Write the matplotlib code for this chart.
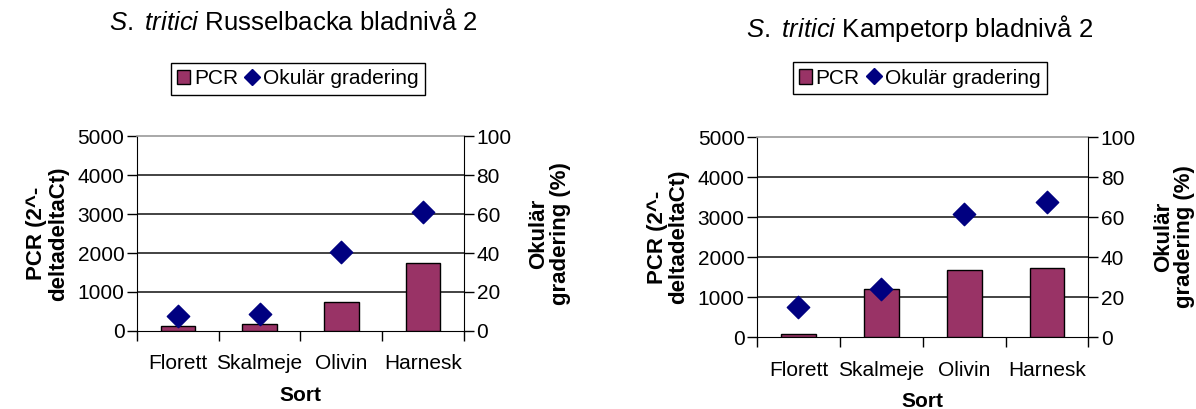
import matplotlib.pyplot as plt
from matplotlib.lines import Line2D
from matplotlib.patches import Patch

plt.rcParams['font.family'] = ['Liberation Sans', 'DejaVu Sans']
plt.rcParams['mathtext.fontset'] = 'custom'
plt.rcParams['mathtext.it'] = 'Liberation Sans:italic'
plt.rcParams['mathtext.rm'] = 'Liberation Sans'

# --------------------------
# Data
# --------------------------
sorter = ["Florett", "Skalmeje", "Olivin", "Harnesk"]

russel_pcr = [120, 170, 730, 1740]
russel_okular = [7.6, 8.9, 40.4, 61]

kamp_pcr = [85, 1205, 1680, 1720]
kamp_okular = [15, 24, 61.5, 67.3]

titles = [r"$\mathit{S.\ tritici}$ Russelbacka bladnivå 2",
          r"$\mathit{S.\ tritici}$ Kampetorp bladnivå 2"]

BAR = "#993366"
DIAMOND = "#000080"

fig = plt.figure(figsize=(11.96, 4.09), dpi=100)

# axes positions in figure fractions
positions = [[0.1145, 0.191, 0.2735, 0.476],
             [0.633, 0.176, 0.277, 0.489]]
legend_pos = [(0.249, 0.807), (0.769, 0.809)]
title_pos = [(0.245, 0.945), (0.769, 0.93)]

datasets = [(russel_pcr, russel_okular), (kamp_pcr, kamp_okular)]

for i, (pcr, okular) in enumerate(datasets):
    ax = fig.add_axes(positions[i])
    x = range(len(sorter))
    ax.bar(x, pcr, width=0.42, color=BAR, edgecolor="black", linewidth=1, zorder=3)
    ax.set_xlim(-0.5, 3.5)
    ax.set_ylim(0, 5000)
    ax.set_yticks([0, 1000, 2000, 3000, 4000, 5000])
    ax.set_xticks([-0.5, 0.5, 1.5, 2.5, 3.5])
    ax.set_xticklabels([])
    ax.set_xticks(list(x), minor=True)
    ax.set_xticklabels(sorter, minor=True, fontsize=15)
    ax.tick_params(axis="x", which="minor", length=0, pad=17)
    ax.tick_params(axis="x", which="major", direction="out", length=7, width=1)
    ax.tick_params(axis="y", direction="out", length=7, width=1, labelsize=15, pad=2)
    for yv in [1000, 2000, 3000, 4000]:
        ax.axhline(yv, color="#222222", lw=1.2, zorder=1)
    ax.spines["top"].set_color("#999999")
    ax.spines["top"].set_linewidth(1.2)
    ax.spines["right"].set_visible(False)
    ax.set_ylabel("PCR (2^-\ndeltadeltaCt)", fontsize=16, fontweight="bold",
                  labelpad=6, linespacing=1.05)
    ax.set_xlabel("Sort", fontsize=15, fontweight="bold", labelpad=9)

    ax2 = ax.twinx()
    ax2.scatter(x, okular, marker="D", s=130, color=DIAMOND, zorder=4)
    ax2.set_ylim(0, 100)
    ax2.set_yticks([0, 20, 40, 60, 80, 100])
    ax2.tick_params(axis="y", direction="out", length=7, width=1, labelsize=15, pad=2)
    ax2.spines["top"].set_visible(False)
    ax2.spines["left"].set_visible(False)
    ax2.spines["bottom"].set_visible(False)
    ax2.set_ylabel("Okulär\ngradering (%)", fontsize=16, fontweight="bold",
                   labelpad=12, linespacing=1.05)

    handles = [Patch(facecolor=BAR, edgecolor="black", label="PCR"),
               Line2D([], [], marker="D", color=DIAMOND, linestyle="none",
                      markersize=8, label="Okulär gradering")]
    fig.legend(handles=handles, loc="center", bbox_to_anchor=legend_pos[i],
               ncol=2, fontsize=15, frameon=True, fancybox=False,
               edgecolor="black", framealpha=1, handlelength=0.6,
               handletextpad=0.2, columnspacing=0.4, borderpad=0.3)
    fig.text(title_pos[i][0], title_pos[i][1], titles[i], fontsize=18.5,
             ha="center", va="center")

fig.savefig("out.png", dpi=100)
